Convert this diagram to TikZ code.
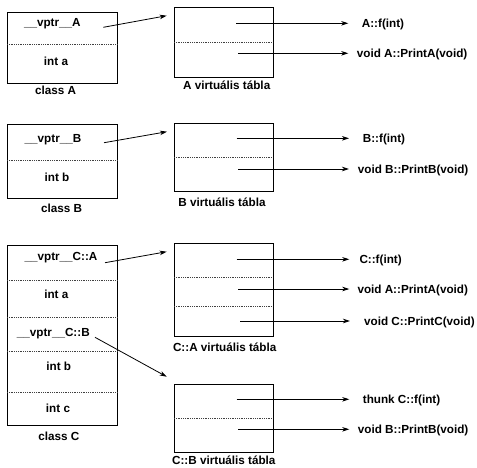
\documentclass[tikz,border=0pt]{standalone}
\usepackage{fontspec}
\setmainfont{Liberation Sans}
\usetikzlibrary{arrows.meta}
\begin{document}
\begin{tikzpicture}[x=1pt,y=-1pt,
  box/.style={draw, line width=0.9pt, inner sep=0pt, outer sep=0pt, anchor=north west},
  sepline/.style={draw=black!75, line width=0.6pt, dash pattern=on 0.8pt off 1pt},
  txt/.style={font=\fontsize{11.7}{14}\bfseries\selectfont, inner sep=0pt, anchor=base},
  lbl/.style={txt, anchor=base west},
  ptr/.style={line width=0.8pt, -{Stealth[length=7pt,width=4.5pt,inset=2pt]}}]
\useasboundingbox (0,0) rectangle (477,467);

% ---------- class A ----------
\node[box, minimum width=110.5pt, minimum height=71pt] (cA) at (7,12) {};
\draw[sepline] (7,44) -- (117.5,44);
\node[txt] (vA) at (52.3,26.8) {\_\_vptr\_\_A};
\node[txt] (iA) at (56,65) {int a};
\node[txt] (nA) at (55.5,94.3) {class A};

\node[box, minimum width=99pt, minimum height=70pt] (tA) at (174,7.3) {};
\draw[sepline] (174,42) -- (273,42);
\node[txt] (ttA) at (226.7,89.3) {A virtuális tábla};
\node[lbl] (fA1) at (361.7,27.6) {A::f(int)};
\node[lbl] (fA2) at (356.7,57.6) {void A::PrintA(void)};
\coordinate (sA1) at (236,23.3);
\coordinate (sA2) at (238,53.3);
\draw[ptr] (sA1) -- ([xshift=-13.4pt,yshift=4.3pt]fA1.base west);
\draw[ptr] (sA2) -- ([xshift=-8.4pt,yshift=4.3pt]fA2.base west);
\coordinate (pA) at (103.3,27.3);
\coordinate (qA) at (166.7,15.7);
\draw[ptr] (pA) -- (qA);

% ---------- class B ----------
\node[box, minimum width=110.5pt, minimum height=74.3pt] (cB) at (7,124) {};
\draw[sepline] (7,160.7) -- (117.5,160.7);
\node[txt] (vB) at (53,142.3) {\_\_vptr\_\_B};
\node[txt] (iB) at (57,181.7) {int b};
\node[txt] (nB) at (61.7,212.7) {class B};

\node[box, minimum width=99pt, minimum height=68.4pt] (tB) at (174,123.3) {};
\draw[sepline] (174,157.7) -- (273,157.7);
\node[txt] (ttB) at (222,206.7) {B virtuális tábla};
\node[lbl] (fB1) at (362.7,142.6) {B::f(int)};
\node[lbl] (fB2) at (357.7,173.3) {void B::PrintB(void)};
\coordinate (sB1) at (236.7,138.3);
\coordinate (sB2) at (238.3,169);
\draw[ptr] (sB1) -- ([xshift=-13.7pt,yshift=4.3pt]fB1.base west);
\draw[ptr] (sB2) -- ([xshift=-8.7pt,yshift=4.3pt]fB2.base west);
\coordinate (pB) at (104,142.7);
\coordinate (qB) at (167,131.7);
\draw[ptr] (pB) -- (qB);

% ---------- class C ----------
\node[box, minimum width=110.5pt, minimum height=180pt] (cC) at (7,245) {};
\draw[sepline] (7,280) -- (117.5,280);
\draw[sepline] (7,317) -- (117.5,317);
\draw[sepline] (7,351.7) -- (117.5,351.7);
\draw[sepline] (7,392.3) -- (117.5,392.3);
\node[txt] (vCA) at (61,260.7) {\_\_vptr\_\_C::A};
\node[txt] (iCa) at (56.3,298.3) {int a};
\node[txt] (vCB) at (53.3,336.7) {\_\_vptr\_\_C::B};
\node[txt] (iCb) at (58.8,370.7) {int b};
\node[txt] (iCc) at (58,412.7) {int c};
\node[txt] (nC) at (58.8,440) {class C};

\node[box, minimum width=99pt, minimum height=93.4pt] (tCA) at (174,243.3) {};
\draw[sepline] (174,277.7) -- (273,277.7);
\draw[sepline] (174,306.7) -- (273,306.7);
\node[txt] (ttCA) at (224.7,351.7) {C::A virtuális tábla};
\node[lbl] (fC1) at (359.3,263.6) {C::f(int)};
\node[lbl] (fC2) at (357.3,293.3) {void A::PrintA(void)};
\node[lbl] (fC3) at (364,325.3) {void C::PrintC(void)};
\coordinate (sC1) at (236.7,259.3);
\coordinate (sC2) at (238.3,289);
\coordinate (sC3) at (240,321);
\draw[ptr] (sC1) -- ([xshift=-10pt,yshift=4.3pt]fC1.base west);
\draw[ptr] (sC2) -- ([xshift=-8pt,yshift=4.3pt]fC2.base west);
\draw[ptr] (sC3) -- ([xshift=-14pt,yshift=4.3pt]fC3.base west);

\node[box, minimum width=99pt, minimum height=68.4pt] (tCB) at (174,384.3) {};
\draw[sepline] (174,418.3) -- (273,418.3);
\node[txt] (ttCB) at (223.8,464) {C::B virtuális tábla};
\node[lbl] (fD1) at (362.7,403.6) {thunk C::f(int)};
\node[lbl] (fD2) at (357.7,433.6) {void B::PrintB(void)};
\coordinate (sD1) at (236.7,399.3);
\coordinate (sD2) at (238.3,429.3);
\draw[ptr] (sD1) -- ([xshift=-13.4pt,yshift=4.3pt]fD1.base west);
\draw[ptr] (sD2) -- ([xshift=-8.4pt,yshift=4.3pt]fD2.base west);

\coordinate (pCA) at (105,262.7);
\coordinate (qCA) at (166.7,251.7);
\draw[ptr] (pCA) -- (qCA);
\coordinate (pCB) at (95,337.3);
\coordinate (qCB) at (166.7,376.7);
\draw[ptr] (pCB) -- (qCB);
\end{tikzpicture}
\end{document}
